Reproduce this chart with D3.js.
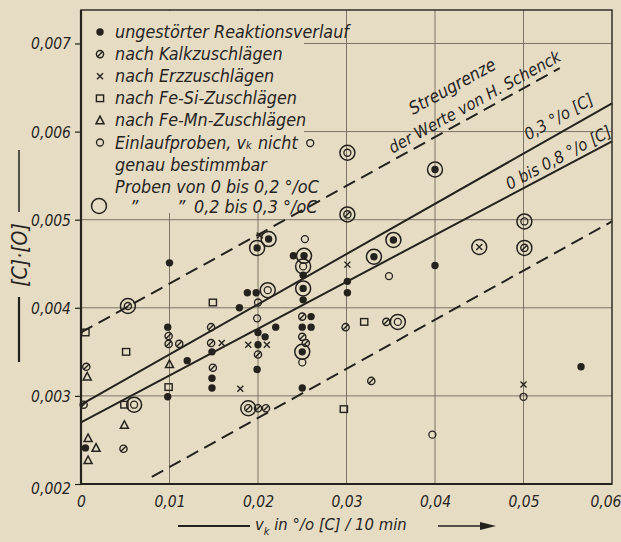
<!DOCTYPE html>
<html>
<head>
<meta charset="utf-8">
<script src="https://cdn.jsdelivr.net/npm/d3@7"></script>
<style>
body { margin: 0; background: #e6dcc4; }
svg { display: block; }
text { font-family: "DejaVu Sans Condensed", "DejaVu Sans", sans-serif; font-style: italic; fill: #27241f; }
</style>
</head>
<body>
<div id="chart"></div>
<script>
// values: [v_k in %[C]/10 min, [C]*[O]]
var ungestoert = [
    [0.0005, 0.00241], [0.0100, 0.00451], [0.0098, 0.00378], [0.0120, 0.00340],
    [0.0098, 0.00299], [0.0148, 0.00350], [0.0148, 0.00320], [0.0148, 0.00309],
    [0.0212, 0.00478], [0.0199, 0.00468], [0.0240, 0.00459], [0.0252, 0.00459],
    [0.0251, 0.00437], [0.0188, 0.00417], [0.0198, 0.00417], [0.0251, 0.00422],
    [0.0251, 0.00409], [0.0179, 0.00400], [0.0220, 0.00378], [0.0260, 0.00390],
    [0.0250, 0.00378], [0.0260, 0.00378], [0.0200, 0.00372], [0.0208, 0.00367],
    [0.0200, 0.00358], [0.0199, 0.00330], [0.0250, 0.00350], [0.0250, 0.00309],
    [0.0331, 0.00458], [0.0353, 0.00477], [0.0301, 0.00430], [0.0301, 0.00417],
    [0.0400, 0.00448], [0.0400, 0.00557], [0.0565, 0.00333]
];
var kalk = [
    [0.0006, 0.00333], [0.0003, 0.00290], [0.0053, 0.00402], [0.0048, 0.00240],
    [0.0099, 0.00368], [0.0099, 0.00359], [0.0111, 0.00359], [0.0147, 0.00378],
    [0.0147, 0.00360], [0.0149, 0.00332], [0.0189, 0.00286], [0.0200, 0.00286],
    [0.0209, 0.00286], [0.0200, 0.00347], [0.0250, 0.00390], [0.0250, 0.00367],
    [0.0254, 0.00360], [0.0299, 0.00378], [0.0328, 0.00317], [0.0345, 0.00384],
    [0.0301, 0.00506], [0.0501, 0.00468]
];
var erz = [
    [0.0159, 0.00360], [0.0180, 0.00308], [0.0202, 0.00482], [0.0189, 0.00358],
    [0.0210, 0.00358], [0.0301, 0.00449], [0.0450, 0.00469], [0.0500, 0.00313]
];
var feSi = [
    [0.0005, 0.00372], [0.0051, 0.00350], [0.0049, 0.00290], [0.0149, 0.00406],
    [0.0099, 0.00310], [0.0320, 0.00384], [0.0297, 0.00285]
];
var feMn = [
    [0.0007, 0.00322], [0.0008, 0.00252], [0.0017, 0.00241], [0.0008, 0.00227],
    [0.0049, 0.00267], [0.0100, 0.00336]
];
var einlauf = [
    [0.0060, 0.00290], [0.0259, 0.00587], [0.0253, 0.00478], [0.0251, 0.00447],
    [0.0211, 0.00420], [0.0200, 0.00406], [0.0199, 0.00388], [0.0250, 0.00338],
    [0.0348, 0.00436], [0.0358, 0.00384], [0.0301, 0.00576], [0.0501, 0.00498],
    [0.0500, 0.00299], [0.0397, 0.00256]
];
// large ring = Proben von 0,2 bis 0,3 %C
var ring02bis03 = [
    [0.0053, 0.00402], [0.0060, 0.00290], [0.0189, 0.00286], [0.0212, 0.00478],
    [0.0199, 0.00468], [0.0252, 0.00459], [0.0251, 0.00447], [0.0211, 0.00420],
    [0.0251, 0.00422], [0.0250, 0.00350], [0.0301, 0.00576], [0.0301, 0.00506],
    [0.0331, 0.00458], [0.0353, 0.00477], [0.0358, 0.00384], [0.0400, 0.00557],
    [0.0450, 0.00469], [0.0501, 0.00498], [0.0501, 0.00468]
];

// lines (end points)
var streugrenzeOben = [[0, 0.00372], [0.0541, 0.00672]];
var streugrenzeUnten = [[0.008, 0.00208], [0.06, 0.00498]];
var linie03 = [[0, 0.0029], [0.06, 0.00632]];
var linie0bis08 = [[0, 0.0027], [0.06, 0.00589]];

var xTicks = [0, 0.01, 0.02, 0.03, 0.04, 0.05, 0.06];
var yTicks = [0.002, 0.003, 0.004, 0.005, 0.006, 0.007];

var legendRows = [
    {type: "dot", label: "ungestörter Reaktionsverlauf"},
    {type: "kalk", label: "nach Kalkzuschlägen"},
    {type: "erz", label: "nach Erzzuschlägen"},
    {type: "fesi", label: "nach Fe-Si-Zuschlägen"},
    {type: "femn", label: "nach Fe-Mn-Zuschlägen"},
    {type: "einlauf", label: "Einlaufproben, v\u2096 nicht"},
    {type: null, label: "genau bestimmbar"},
    {type: null, label: "Proben von 0 bis 0,2 °/oC"}
];

var W = 621, H = 542;
var ink = "#25221e";
var pLeft = 81, pRight = 612, pTop = 10, pBottom = 484;

var x = d3.scaleLinear().domain([0, 0.06]).range([pLeft, pRight]);
var y = d3.scaleLinear().domain([0.002, 0.00738]).range([pBottom, pTop]);
var fmt = function(v, digits) { return d3.format("." + digits + "f")(v).replace(".", ","); };

var svg = d3.select("#chart").append("svg").attr("width", W).attr("height", H);
svg.append("rect").attr("width", W).attr("height", H).attr("fill", "#e6dcc4");

// grid
svg.selectAll(".gx").data(xTicks.slice(1, -1)).join("line")
    .attr("x1", function(d) { return x(d); }).attr("x2", function(d) { return x(d); })
    .attr("y1", pTop).attr("y2", pBottom)
    .attr("stroke", "#6f685c").attr("stroke-width", 0.9);
svg.selectAll(".gy").data(yTicks.slice(1)).join("line")
    .attr("x1", pLeft).attr("x2", pRight)
    .attr("y1", function(d) { return y(d); }).attr("y2", function(d) { return y(d); })
    .attr("stroke", "#6f685c").attr("stroke-width", 0.9);

// legend area hides the grid
svg.append("rect").attr("x", pLeft + 1).attr("y", pTop + 1).attr("width", 222).attr("height", 202)
    .attr("fill", "#e6dcc4");

// axes
var yAxis = d3.axisLeft(y).tickValues(yTicks).tickSize(6).tickPadding(4)
    .tickFormat(function(d) { return fmt(d, 3); });
var gy = svg.append("g").attr("transform", "translate(" + pLeft + ",0)").call(yAxis);
gy.select(".domain").remove();
gy.selectAll("line").attr("stroke", ink).attr("stroke-width", 1.2);
gy.selectAll("text").attr("font-size", 15.5).attr("fill", ink).attr("font-family", null)
    .attr("dy", function(d) { return d == 0.002 ? "0.6em" : "0.35em"; });

var xAxis = d3.axisBottom(x).tickValues(xTicks).tickSize(0).tickPadding(12)
    .tickFormat(function(d) { return d == 0 ? "0" : fmt(d, 2); });
var gx = svg.append("g").attr("transform", "translate(0," + pBottom + ")").call(xAxis);
gx.select(".domain").remove();
gx.selectAll("text").attr("font-size", 15.5).attr("fill", ink).attr("font-family", null)
    .attr("text-anchor", function(d) { return d == 0.06 ? "end" : "middle"; })
    .attr("dx", function(d) { return d == 0.06 ? 9 : 0; });

// frame
svg.append("rect").attr("x", pLeft).attr("y", pTop).attr("width", pRight - pLeft).attr("height", pBottom - pTop)
    .attr("fill", "none").attr("stroke", ink).attr("stroke-width", 1.4);
svg.append("line").attr("x1", pLeft).attr("x2", pLeft).attr("y1", pTop).attr("y2", pBottom)
    .attr("stroke", ink).attr("stroke-width", 2.2);
svg.append("line").attr("x1", pLeft).attr("x2", pRight).attr("y1", pBottom).attr("y2", pBottom)
    .attr("stroke", ink).attr("stroke-width", 2.2);

// lines
var line = d3.line().x(function(d) { return x(d[0]); }).y(function(d) { return y(d[1]); });
function drawLine(pts, dashed) {
    svg.append("path").attr("d", line(pts)).attr("fill", "none").attr("stroke", ink)
        .attr("stroke-width", 2).attr("stroke-dasharray", dashed ? "13,7" : null);
}
drawLine(streugrenzeOben, true);
drawLine(streugrenzeUnten, true);
drawLine(linie03, false);
drawLine(linie0bis08, false);

// markers
function addMarker(g, type) {
    if (type == "dot") {
        g.append("circle").attr("r", 3.7).attr("fill", ink);
    } else if (type == "kalk") {
        g.append("circle").attr("r", 3.6).attr("fill", "none").attr("stroke", ink).attr("stroke-width", 1.4);
        g.append("line").attr("x1", -2.6).attr("y1", 2.6).attr("x2", 2.6).attr("y2", -2.6)
            .attr("stroke", ink).attr("stroke-width", 1.4);
    } else if (type == "erz") {
        g.append("path").attr("d", "M-3,-3L3,3M-3,3L3,-3").attr("stroke", ink).attr("stroke-width", 1.4);
    } else if (type == "fesi") {
        g.append("rect").attr("x", -3.6).attr("y", -3.3).attr("width", 7.2).attr("height", 6.6)
            .attr("fill", "none").attr("stroke", ink).attr("stroke-width", 1.4);
    } else if (type == "femn") {
        g.append("path").attr("d", "M0,-4.2L4,3.4L-4,3.4Z")
            .attr("fill", "none").attr("stroke", ink).attr("stroke-width", 1.5);
    } else if (type == "einlauf") {
        g.append("circle").attr("r", 3.5).attr("fill", "none").attr("stroke", ink).attr("stroke-width", 1.3);
    } else if (type == "ring") {
        g.append("circle").attr("r", 7.5).attr("fill", "none").attr("stroke", ink).attr("stroke-width", 1.5);
    }
}

var series = [
    {data: ungestoert, type: "dot"},
    {data: kalk, type: "kalk"},
    {data: erz, type: "erz"},
    {data: feSi, type: "fesi"},
    {data: feMn, type: "femn"},
    {data: einlauf, type: "einlauf"},
    {data: ring02bis03, type: "ring"}
];
series.forEach(function(s) {
    svg.append("g").selectAll("g").data(s.data).join("g")
        .attr("transform", function(d) { return "translate(" + x(d[0]) + "," + y(d[1]) + ")"; })
        .each(function() { addMarker(d3.select(this), s.type); });
});

// legend
var lg = svg.append("g");
legendRows.forEach(function(r, i) {
    var cy = 32 + i * 22.1;
    if (r.type) {
        addMarker(lg.append("g").attr("transform", "translate(100," + cy + ")"), r.type);
    }
    lg.append("text").attr("x", 115).attr("y", cy + 6).attr("font-size", 17.8).text(r.label);
});
addMarker(lg.append("g").attr("transform", "translate(99,206)"), "ring");
lg.append("text").attr("x", 130).attr("y", 213).attr("font-size", 17.8).text("\u201D");
lg.append("text").attr("x", 177).attr("y", 213).attr("font-size", 17.8).text("\u201D");
lg.append("text").attr("x", 194).attr("y", 213).attr("font-size", 17.8).text("0,2 bis 0,3 °/oC");

// labels along the lines
function angleOf(pts) {
    return Math.atan2(y(pts[1][1]) - y(pts[0][1]), x(pts[1][0]) - x(pts[0][0])) * 180 / Math.PI;
}
function valueAt(pts, v) {
    var t = (v - pts[0][0]) / (pts[1][0] - pts[0][0]);
    return pts[0][1] + t * (pts[1][1] - pts[0][1]);
}
function lineLabel(pts, v, texts) {
    var g = svg.append("g").attr("transform", "translate(" + x(v) + "," + y(valueAt(pts, v)) + ") rotate(" + angleOf(pts) + ")");
    texts.forEach(function(t) {
        g.append("text").attr("x", t[1]).attr("y", t[2]).attr("text-anchor", "middle")
            .attr("font-size", t[3]).text(t[0]);
    });
}
lineLabel(streugrenzeOben, 0.0451, [["Streugrenze", -12, -30, 17.5], ["der Werte von H. Schenck", 0, -6, 16.5]]);
lineLabel(linie03, 0.0548, [["0,3 °/o [C]", 0, -9, 16.5]]);
lineLabel(linie0bis08, 0.0545, [["0 bis 0,8 °/o [C]", 0, -5, 16.5]]);

// axis titles
svg.append("text").attr("transform", "translate(27,255) rotate(-90)").attr("text-anchor", "middle")
    .attr("font-size", 21).text("[C]·[O]");
svg.append("line").attr("x1", 19).attr("x2", 19).attr("y1", 150).attr("y2", 212).attr("stroke", ink).attr("stroke-width", 1.5);
svg.append("line").attr("x1", 19).attr("x2", 19).attr("y1", 297).attr("y2", 362).attr("stroke", ink).attr("stroke-width", 2.2);

var xt = svg.append("text").attr("x", 255).attr("y", 530).attr("font-size", 16.5);
xt.append("tspan").text("v");
xt.append("tspan").attr("font-size", 11).attr("dy", 5).text("k");
xt.append("tspan").attr("dy", -5).text(" in °/o [C] / 10 min");
svg.append("line").attr("x1", 178).attr("x2", 250).attr("y1", 526).attr("y2", 526).attr("stroke", ink).attr("stroke-width", 2.2);
svg.append("line").attr("x1", 438).attr("x2", 488).attr("y1", 526).attr("y2", 526).attr("stroke", ink).attr("stroke-width", 1.5);
svg.append("path").attr("d", "M496,526L480,522L480,530Z").attr("fill", ink);
</script>
</body>
</html>
